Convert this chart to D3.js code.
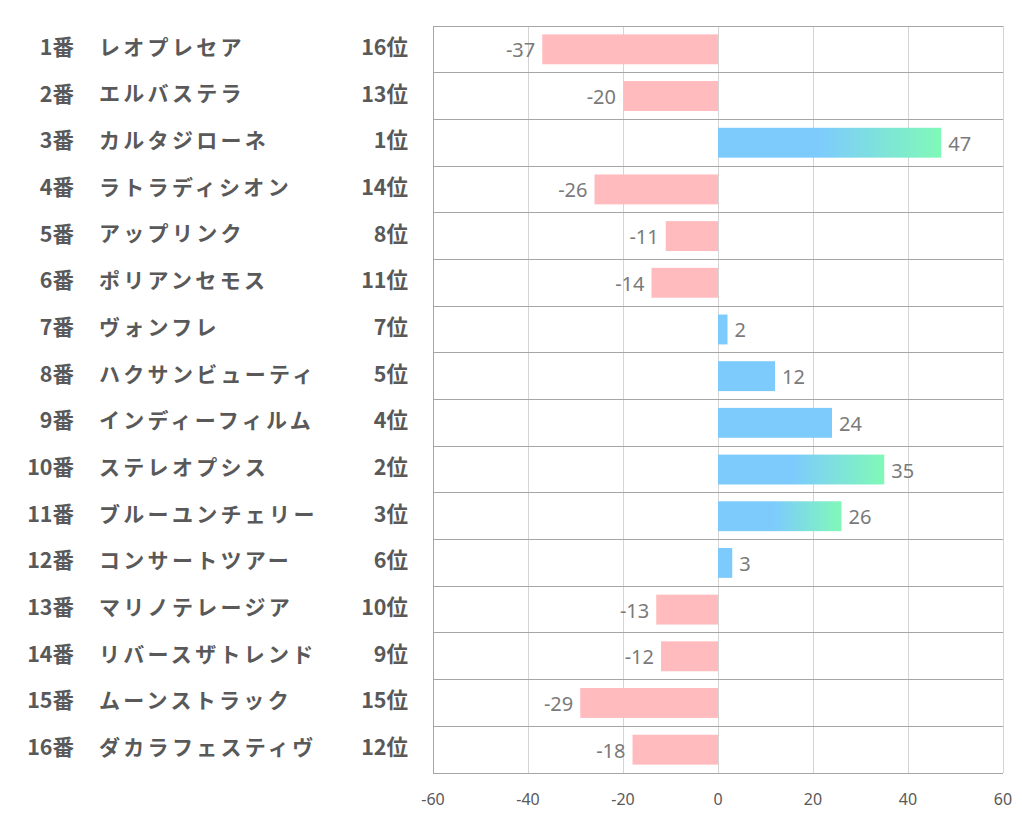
<!DOCTYPE html>
<html><head><meta charset="utf-8">
<script src="https://cdn.jsdelivr.net/npm/d3@7"></script>
<style>body{margin:0;background:#fff;}svg{display:block;}</style>
</head><body>
<script>
const numbers = ["1番","2番","3番","4番","5番","6番","7番","8番","9番","10番","11番","12番","13番","14番","15番","16番"];
const names = ["レオプレセア","エルバステラ","カルタジローネ","ラトラディシオン","アップリンク","ポリアンセモス","ヴォンフレ","ハクサンビューティ","インディーフィルム","ステレオプシス","ブルーユンチェリー","コンサートツアー","マリノテレージア","リバースザトレンド","ムーンストラック","ダカラフェスティヴ"];
const ranks = ["16位","13位","1位","14位","8位","11位","7位","5位","4位","2位","3位","6位","10位","9位","15位","12位"];
const values = [-37,-20,47,-26,-11,-14,2,12,24,35,26,3,-13,-12,-29,-18];
const rankNums = [16,13,1,14,8,11,7,5,4,2,3,6,10,9,15,12];
const ticks = [-60,-40,-20,0,20,40,60];

(function(){
const W = 1022, H = 834;
const svg = d3.select("body").append("svg").attr("width", W).attr("height", H);
const pL = 433, pR = 1003, pT = 26, pB = 773;
const x = d3.scaleLinear().domain([-60,60]).range([pL,pR]);
const y = d3.scaleBand().domain(d3.range(values.length)).range([pT,pB]).paddingInner(0.36).paddingOuter(0.18);
const band = d3.scaleBand().domain(d3.range(values.length)).range([pT,pB]);

const defs = svg.append("defs");
const grad = defs.append("linearGradient").attr("id","g").attr("x1","0%").attr("x2","100%").attr("y1","0%").attr("y2","0%");
grad.append("stop").attr("offset","0%").attr("stop-color","#7dcbfd");
grad.append("stop").attr("offset","45%").attr("stop-color","#7dcbfd");
grad.append("stop").attr("offset","100%").attr("stop-color","#80f9b8");

// vertical gridlines
svg.append("g").selectAll("line").data(ticks).join("line")
  .attr("x1", d=>x(d)).attr("x2", d=>x(d)).attr("y1", pT).attr("y2", pB)
  .attr("stroke", d=> d===-60 ? "#a6a6a6" : "#d4d4d4").attr("stroke-width",1).attr("shape-rendering","crispEdges");
// horizontal row lines
const hl = d3.range(values.length+1).map(i => i<values.length ? band(i) : pB);
svg.append("g").selectAll("line").data(hl).join("line")
  .attr("x1", pL).attr("x2", pR).attr("y1", d=>d).attr("y2", d=>d)
  .attr("stroke", "#a6a6a6").attr("stroke-width",1).attr("shape-rendering","crispEdges");

// bars
svg.append("g").selectAll("rect").data(values).join("rect")
  .attr("x", d=>x(Math.min(0,d))).attr("width", d=>Math.abs(x(d)-x(0)))
  .attr("y", (d,i)=>y(i)).attr("height", y.bandwidth())
  .attr("fill", (d,i)=> d<0 ? "#ffbbbd" : (rankNums[i]<=3 ? "url(#g)" : "#7dcbfd"));

// value labels
svg.append("g").selectAll("text").data(values).join("text")
  .attr("x", d=> d<0 ? x(d)-7 : x(d)+7)
  .attr("y", (d,i)=>y(i)+y.bandwidth()/2+1)
  .attr("dy","0.35em")
  .attr("text-anchor", d=> d<0 ? "end" : "start")
  .attr("font-family","'Noto Sans', 'Open Sans', sans-serif").attr("font-size",20).attr("fill","#7a7a7a")
  .text(d=>d);

// axis labels
svg.append("g").selectAll("text").data(ticks).join("text")
  .attr("x", d=>x(d)).attr("y", 799).attr("dy","0.35em").attr("text-anchor","middle")
  .attr("font-family","'Noto Sans', 'Open Sans', sans-serif").attr("font-size",16).attr("fill","#595959")
  .text(d=>d);

// left labels
const lf = "'Noto Sans CJK JP', sans-serif";
const rowY = i => band(i) + band.bandwidth()/2 - 2;
svg.append("g").selectAll("text").data(numbers).join("text")
  .attr("x", 74).attr("y",(d,i)=>rowY(i)).attr("dy","0.35em").attr("text-anchor","end")
  .attr("font-family",lf).attr("font-weight","bold").attr("font-size",21.5).attr("fill","#595959").text(d=>d);
svg.append("g").selectAll("text").data(names).join("text")
  .attr("x", 99).attr("y",(d,i)=>rowY(i)).attr("dy","0.35em").attr("text-anchor","start")
  .attr("font-family",lf).attr("font-weight","bold").attr("font-size",21).attr("fill","#595959")
  .attr("letter-spacing", 3.3).text(d=>d);
svg.append("g").selectAll("text").data(ranks).join("text")
  .attr("x", 408).attr("y",(d,i)=>rowY(i)).attr("dy","0.35em").attr("text-anchor","end")
  .attr("font-family",lf).attr("font-weight","bold").attr("font-size",21.5).attr("fill","#595959").text(d=>d);
})();
</script>
</body></html>
